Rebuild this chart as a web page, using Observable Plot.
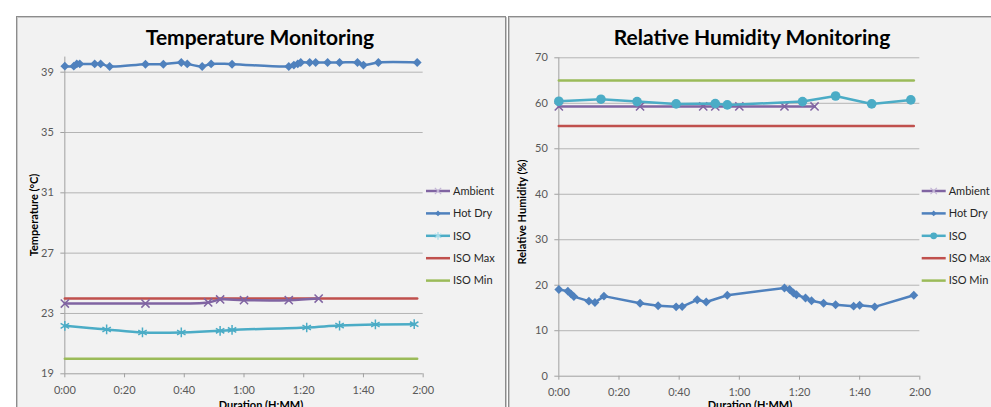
<!DOCTYPE html>
<html>
<head>
<meta charset="utf-8">
<script src="https://cdn.jsdelivr.net/npm/d3@7"></script>
<script src="https://cdn.jsdelivr.net/npm/@observablehq/plot@0.6"></script>
<style>
  html, body { margin: 0; padding: 0; background: #ffffff; width: 991px; height: 407px; overflow: hidden; }
  #wrap { position: relative; width: 991px; height: 407px; overflow: hidden; font-family: Lato, "Open Sans", sans-serif; }
  .panel { position: absolute; background: #f2f2f2; border: 1px solid #8c8c8c; box-shadow: inset 1px 1px 0 #c8c8c8, 1px 1px 0 #c8c8c8; box-sizing: border-box; }
  .title { position: absolute; font-weight: bold; font-size: 21px; color: #000; white-space: nowrap; transform: translateX(-50%); line-height: 1; }
  .chart { position: absolute; top: 0; }
</style>
</head>
<body>
<div id="wrap">
  <div class="panel" style="left:16px; top:16px; width:490px; height:430px;"></div>
  <div class="panel" style="left:508px; top:16px; width:520px; height:430px;"></div>
  <div class="title" style="left:260px; top:25.5px;">Temperature Monitoring</div>
  <div class="title" style="left:752px; top:25.5px;">Relative Humidity Monitoring</div>
  <div id="left" class="chart" style="left:0px;"></div>
  <div id="right" class="chart" style="left:505px;"></div>
</div>
<script>
// ---- data ----
const seriesNames = ["Ambient", "Hot Dry", "ISO", "ISO Max", "ISO Min"];
const seriesColors = ["#8064A2", "#4F81BD", "#4BACC6", "#C0504D", "#9BBB59"];

const xTicks = [0, 20, 40, 60, 80, 100, 120];
const tempTicks = [19, 23, 27, 31, 35, 39];
const rhTicks = [0, 10, 20, 30, 40, 50, 60, 70];

// minutes
const hotDryTime = [0, 3, 4, 5, 10, 12, 15, 27, 33, 39, 41, 46, 49, 56, 75, 76.7, 78, 79, 82, 84, 88, 92, 98, 100, 105, 118];
const hotDryTemp = [39.40, 39.40, 39.55, 39.55, 39.55, 39.55, 39.38, 39.53, 39.53, 39.64, 39.55, 39.38, 39.55, 39.53, 39.38, 39.47, 39.55, 39.64, 39.64, 39.64, 39.64, 39.64, 39.64, 39.47, 39.64, 39.64];
const hotDryRH = [19.05, 18.7, 18.1, 17.5, 16.5, 16.2, 17.6, 16.05, 15.5, 15.25, 15.3, 16.8, 16.3, 17.8, 19.4, 19.05, 18.3, 17.9, 17.2, 16.6, 16.05, 15.7, 15.4, 15.6, 15.25, 17.8];

const ambientTime = [0, 27, 48, 52, 60, 75, 85];
const ambientTemp = [23.66, 23.66, 23.73, 23.93, 23.88, 23.88, 23.99];
const ambientRH = [59.3, 59.3, 59.3, 59.3, 59.3, 59.3, 59.3];

const isoTime = [0, 14, 26, 39, 52, 56, 81, 92, 104, 117];
const isoTemp = [22.18, 21.94, 21.74, 21.74, 21.85, 21.91, 22.07, 22.20, 22.27, 22.29];
const isoRH = [60.45, 60.9, 60.37, 59.86, 59.93, 59.64, 60.37, 61.6, 59.86, 60.74];

const limitTime = [0, 118];
const isoMaxTemp = [24, 24];
const isoMinTemp = [20, 20];
const isoMaxRH = [55, 55];
const isoMinRH = [65, 65];

// ---- helpers ----
const fmt = m => `${Math.floor(m / 60)}:${String(m % 60).padStart(2, "0")}`;
const table = (t, v) => t.map((d, i) => ({t: d, v: v[i]}));
const gridColor = "#b4b4b4";
const axisColor = "#a0a0a0";

function seriesMarks(defs, curve) {
  const marks = [];
  for (const d of defs) {
    const data = table(d.t, d.v);
    marks.push(Plot.line(data, {x: "t", y: "v", stroke: d.color, strokeWidth: 2.5, curve}));
    if (d.symbol) {
      const filled = d.symbol === "diamond2" || d.symbol === "circle";
      marks.push(Plot.dot(data, filled
        ? {x: "t", y: "v", symbol: d.symbol, r: d.r, fill: d.color, stroke: "none"}
        : {x: "t", y: "v", symbol: d.symbol, r: d.r, stroke: d.color, strokeWidth: 1.5, fill: "none"}));
    }
  }
  return marks;
}

function makeChart(opts) {
  const chart = Plot.plot({
    width: opts.width, height: 420,
    marginLeft: opts.ml, marginRight: opts.mr, marginTop: opts.mt, marginBottom: opts.mb,
    style: {background: "transparent", fontFamily: "Lato, 'Open Sans', sans-serif", fontSize: "11px", color: "#595959", overflow: "visible"},
    x: {domain: [0, 120]},
    y: {domain: opts.ydomain},
    marks: [
      Plot.gridY(opts.yticks.filter(v => v !== opts.ydomain[0]), {stroke: gridColor, strokeOpacity: 1}),
      Plot.ruleX([0], {stroke: axisColor}),
      Plot.ruleY([opts.ydomain[0]], {stroke: axisColor}),
      Plot.axisY(opts.yticks, {tickSize: 4, tickPadding: 7, stroke: axisColor, label: null, fontSize: 11}),
      Plot.axisX(xTicks, {tickSize: 4, tickPadding: 8, stroke: axisColor, tickFormat: fmt, label: null, fontSize: 11}),
      ...seriesMarks(opts.limits, "linear"),
      ...seriesMarks(opts.series, opts.curve)
    ]
  });
  const svg = d3.select(chart);
  // axis titles
  svg.append("text")
    .attr("transform", `translate(${opts.ytitleX},${opts.ytitleY}) rotate(-90)`)
    .attr("text-anchor", "middle").attr("dominant-baseline", "central")
    .attr("font-weight", "bold").style("font-size", "11px").attr("fill", "#000")
    .text(opts.ytitle);
  svg.append("text")
    .attr("x", opts.xtitleX).attr("y", 408.5)
    .attr("text-anchor", "middle")
    .attr("font-weight", "bold").style("font-size", "11px").attr("fill", "#000")
    .text("Duration (H:MM)");
  // legend
  const lg = svg.append("g");
  opts.legend.forEach((it, i) => {
    const y = 191 + i * 22.4;
    const g = lg.append("g");
    g.append("line").attr("x1", opts.legendX).attr("x2", opts.legendX + 24).attr("y1", y).attr("y2", y)
      .attr("stroke", it.color).attr("stroke-width", 2.5);
    if (it.symbol) {
      const filled = it.symbol === d3.symbolDiamond2 || it.symbol === d3.symbolCircle;
      g.append("path").attr("d", d3.symbol(it.symbol, Math.PI * it.r * it.r)())
        .attr("transform", `translate(${opts.legendX + 12},${y})`)
        .attr("fill", filled ? it.color : "none")
        .attr("stroke", filled ? "none" : it.light)
        .attr("stroke-width", 1.2);
    }
    g.append("text").attr("x", opts.legendX + 27).attr("y", y).attr("dy", "0.35em")
      .attr("text-anchor", "start")
      .style("font-size", "11px").attr("fill", "#262626").text(it.name);
  });
  return chart;
}

const tempSeries = [
  {t: ambientTime, v: ambientTemp, color: seriesColors[0], symbol: "times", r: 3.8},
  {t: hotDryTime, v: hotDryTemp, color: seriesColors[1], symbol: "diamond2", r: 4},
  {t: isoTime, v: isoTemp, color: seriesColors[2], symbol: "asterisk", r: 4.6}
];
const tempLimits = [
  {t: limitTime, v: isoMaxTemp, color: seriesColors[3]},
  {t: limitTime, v: isoMinTemp, color: seriesColors[4]}
];
const rhSeries = [
  {t: ambientTime, v: ambientRH, color: seriesColors[0], symbol: "times", r: 3.8},
  {t: hotDryTime, v: hotDryRH, color: seriesColors[1], symbol: "diamond2", r: 4},
  {t: isoTime, v: isoRH, color: seriesColors[2], symbol: "circle", r: 4.8}
];
const rhLimits = [
  {t: limitTime, v: isoMaxRH, color: seriesColors[3]},
  {t: limitTime, v: isoMinRH, color: seriesColors[4]}
];

const tempLegend = [
  {name: seriesNames[0], color: seriesColors[0], symbol: d3.symbolTimes, r: 3, light: "#c3b5d6"},
  {name: seriesNames[1], color: seriesColors[1], symbol: d3.symbolDiamond2, r: 2.6},
  {name: seriesNames[2], color: seriesColors[2], symbol: d3.symbolAsterisk, r: 3.6, light: "#a5dcea"},
  {name: seriesNames[3], color: seriesColors[3]},
  {name: seriesNames[4], color: seriesColors[4]}
];
const rhLegend = [
  {name: seriesNames[0], color: seriesColors[0], symbol: d3.symbolTimes, r: 3, light: "#c3b5d6"},
  {name: seriesNames[1], color: seriesColors[1], symbol: d3.symbolDiamond2, r: 2.6},
  {name: seriesNames[2], color: seriesColors[2], symbol: d3.symbolCircle, r: 3.4},
  {name: seriesNames[3], color: seriesColors[3]},
  {name: seriesNames[4], color: seriesColors[4]}
];

document.getElementById("left").appendChild(makeChart({
  width: 505, ml: 64.33, mr: 82.33, mt: 56.6, mb: 46.7,
  ydomain: [19, 40], yticks: tempTicks,
  series: tempSeries, limits: tempLimits, curve: "catmull-rom",
  ytitle: "Temperature (°C)", ytitleX: 33, ytitleY: 215, xtitleX: 261,
  legend: tempLegend, legendX: 426
}));
document.getElementById("right").appendChild(makeChart({
  width: 486, ml: 53.33, mr: 71.67, mt: 57.3, mb: 44.3,
  ydomain: [0, 70], yticks: rhTicks,
  series: rhSeries, limits: rhLimits, curve: "linear",
  ytitle: "Relative Humidity (%)", ytitleX: 16.7, ytitleY: 212, xtitleX: 245,
  legend: rhLegend, legendX: 416.7
}));
</script>
</body>
</html>
